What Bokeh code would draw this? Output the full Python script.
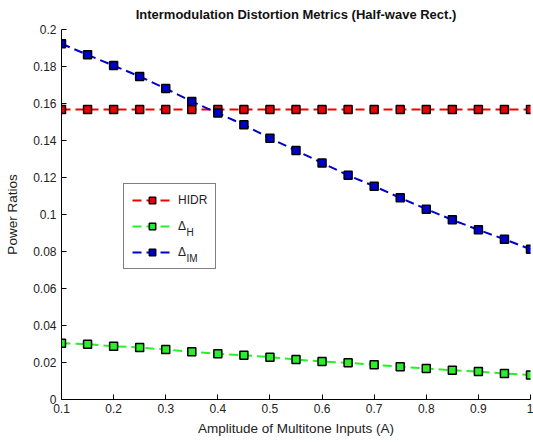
from bokeh.plotting import figure
from bokeh.models import Range1d, FixedTicker, Legend, LegendItem, Label, Title
from bokeh.embed import file_html
from bokeh.resources import INLINE

amplitude = [0.1, 0.15, 0.2, 0.25, 0.3, 0.35, 0.4, 0.45, 0.5, 0.55,
             0.6, 0.65, 0.7, 0.75, 0.8, 0.85, 0.9, 0.95, 1.0]
hidr = [0.1567] * 19
delta_h = [0.0304, 0.0299, 0.0288, 0.0281, 0.0270, 0.0258, 0.0247, 0.0239, 0.0229, 0.0216,
           0.0205, 0.0198, 0.0188, 0.0177, 0.0168, 0.0158, 0.0151, 0.0140, 0.0133]
delta_im = [0.1923, 0.1863, 0.1805, 0.1746, 0.1681, 0.1611, 0.1548, 0.1485, 0.1412, 0.1346,
            0.1279, 0.1212, 0.1153, 0.1090, 0.1029, 0.0971, 0.0917, 0.0866, 0.0812]

x_ticks = [0.1, 0.2, 0.3, 0.4, 0.5, 0.6, 0.7, 0.8, 0.9, 1.0]
x_tick_labels = ["0.1", "0.2", "0.3", "0.4", "0.5", "0.6", "0.7", "0.8", "0.9", "1"]
y_ticks = [0.0, 0.02, 0.04, 0.06, 0.08, 0.1, 0.12, 0.14, 0.16, 0.18, 0.2]
y_tick_labels = ["0", "0.02", "0.04", "0.06", "0.08", "0.1", "0.12", "0.14", "0.16", "0.18", "0.2"]
title_text = "Intermodulation Distortion Metrics (Half-wave Rect.)"

FONT = "Liberation Sans"

p = figure(width=533, height=442, output_backend="svg", toolbar_location=None,
           x_range=Range1d(0.1, 1.0), y_range=Range1d(0.0, 0.2),
           min_border_left=61, min_border_right=3, min_border_top=29, min_border_bottom=43)
p.outline_line_color = None
p.xgrid.visible = False
p.ygrid.visible = False

# spacer (nearest the frame) then the real title above it
p.add_layout(Title(text=" ", text_font=FONT, text_font_size="6px", standoff=0), "above")
p.add_layout(Title(text=title_text, text_font=FONT, text_font_size="13px",
                   text_font_style="bold", text_color="#111111", align="center",
                   offset=-7, standoff=0), "above")

for ax in (p.xaxis, p.yaxis):
    ax.major_tick_in = 5
    ax.major_tick_out = 0
    ax.minor_tick_in = 0
    ax.minor_tick_out = 0
    ax.axis_line_color = "black"
    ax.major_tick_line_color = "black"
    ax.major_label_text_font = FONT
    ax.major_label_text_font_size = "12px"
    ax.major_label_text_color = "#222222"
    ax.axis_label_text_font = FONT
    ax.axis_label_text_font_size = "13.5px"
    ax.axis_label_text_font_style = "normal"
    ax.axis_label_text_color = "#222222"

p.xaxis.ticker = FixedTicker(ticks=x_ticks)
p.xaxis.major_label_overrides = {t: s for t, s in zip(x_ticks, x_tick_labels)}
p.yaxis.ticker = FixedTicker(ticks=y_ticks)
p.yaxis.major_label_overrides = {t: s for t, s in zip(y_ticks, y_tick_labels)}
p.xaxis.axis_label = "Amplitude of Multitone Inputs (A)"
p.yaxis.axis_label = "Power Ratios"
p.xaxis.major_label_standoff = 4
p.xaxis.axis_label_standoff = 5
p.yaxis.major_label_standoff = 5
p.yaxis.axis_label_standoff = 10

series = [("HIDR", hidr, "#ee0000"), ("\u0394", delta_h, "#2aee2a"), ("\u0394", delta_im, "#0000cc")]
items = []
for name, ys, col in series:
    lr = p.line(amplitude, ys, line_color=col, line_width=2, line_dash="9 5")
    sr = p.scatter(amplitude, ys, marker="square", size=8, fill_color=col,
                   line_color="black", line_width=1.5)
    items.append(LegendItem(label=name, renderers=[lr, sr]))

legend = Legend(items=items, location=(62, 130), padding=8, spacing=10,
                glyph_width=40, glyph_height=16, label_height=16, label_width=28,
                label_standoff=6, border_line_color="black", border_line_width=1,
                background_fill_color="white", background_fill_alpha=0.0,
                label_text_font=FONT, label_text_font_size="12px",
                label_text_color="#222222", margin=0)
p.add_layout(legend, "center")

# subscripts for legend labels (screen units relative to the plot frame)
for sub, y in (("H", 162), ("IM", 136)):
    p.add_layout(Label(x=125, y=y, x_units="screen", y_units="screen", text=sub,
                       text_font=FONT, text_font_size="10px", text_color="#222222"))

open("out.html", "w").write(file_html(p, INLINE))
